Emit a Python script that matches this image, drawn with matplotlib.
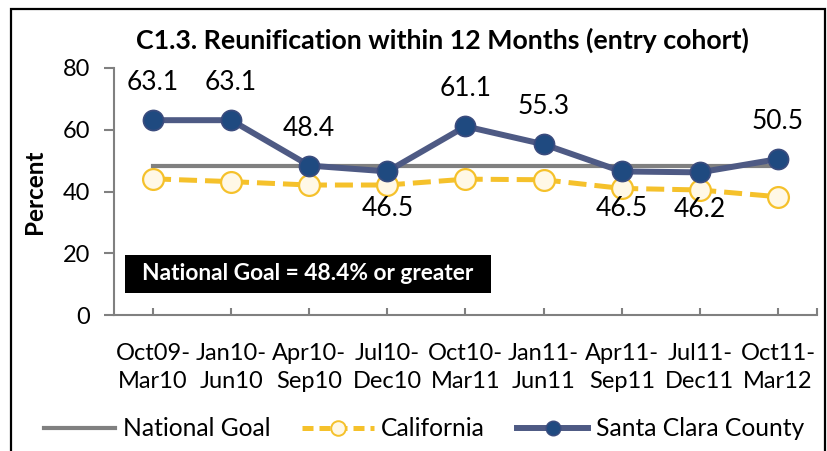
import matplotlib
matplotlib.use("Agg")
import matplotlib.pyplot as plt
from matplotlib.lines import Line2D
from matplotlib.patches import Rectangle

plt.rcParams['font.family'] = ['Lato', 'DejaVu Sans']

# data
periods = ['Oct09-\nMar10', 'Jan10-\nJun10', 'Apr10-\nSep10', 'Jul10-\nDec10',
           'Oct10-\nMar11', 'Jan11-\nJun11', 'Apr11-\nSep11', 'Jul11-\nDec11',
           'Oct11-\nMar12']
national_goal = [48.4] * 9
california = [44.1, 43.2, 42.1, 42.1, 44.0, 43.8, 41.0, 40.5, 38.3]
santa_clara = [63.1, 63.1, 48.4, 46.5, 61.1, 55.3, 46.5, 46.2, 50.5]
label_below = [False, False, False, True, False, False, True, True, False]

gray = '#808080'
gold = '#F5C12B'
slate = '#4E5A84'
navy = '#1F4A80'

fig = plt.figure(figsize=(8.28, 4.51), dpi=100)
ax = fig.add_axes([114/828, 1-315/451, 703/828, 247/451])

x = list(range(len(periods)))
ax.plot(x, national_goal, color=gray, lw=3, zorder=2)
ax.plot(x, california, color=gold, lw=3.6, dashes=(3.6, 1.6),
        marker='o', markersize=15, markerfacecolor='#FFF8E6',
        markeredgecolor=gold, markeredgewidth=1.6, zorder=3)
ax.plot(x, santa_clara, color=slate, lw=4.3, marker='o', markersize=14.5,
        markerfacecolor=navy, markeredgecolor='#3B4C7E', markeredgewidth=1.2,
        zorder=4)

for xi, v, below in zip(x, santa_clara, label_below):
    ax.annotate(f'{v:.1f}', (xi, v), xytext=(0, -27 if below else 27),
                textcoords='offset points', ha='center', va='center',
                fontsize=19)

ax.set_xlim(-0.5, len(periods) - 0.5)
ax.set_ylim(0, 80)
ax.set_yticks([0, 20, 40, 60, 80])
ax.set_xticks(x)
ax.set_xticklabels(periods, fontsize=17, linespacing=1.45)
ax.set_xticks(x + [len(periods) - 0.5], minor=True)
ax.tick_params(axis='x', which='both', direction='in', length=5, width=1.5,
               color=gray, pad=20)
ax.tick_params(axis='y', direction='out', length=7, width=1.5, color=gray,
               labelsize=17, pad=10)
for s in ['top', 'right']:
    ax.spines[s].set_visible(False)
for s in ['left', 'bottom']:
    ax.spines[s].set_color(gray)
    ax.spines[s].set_linewidth(1.5)

ax.set_ylabel('Percent', fontsize=17.5, fontweight='bold', labelpad=12)

# goal note: black box with white text
ax.add_patch(Rectangle((0.0156, 0.089), 0.52, 0.154, transform=ax.transAxes,
                       facecolor='black', edgecolor='none', zorder=5))
ax.text(0.0156 + 0.26, 0.166, 'National Goal = 48.4% or greater',
        transform=ax.transAxes, color='white', fontsize=16.4,
        fontweight='bold', ha='center', va='center', zorder=6)

fig.text(442/828, 1-40/451, 'C1.3. Reunification within 12 Months (entry cohort)',
         ha='center', va='center', fontsize=19.3, fontweight='bold')

handles = [
    Line2D([], [], color=gray, lw=3),
    Line2D([], [], color=gold, lw=3.6, dashes=(2.2, 1.2), marker='o',
           markersize=10.5, markerfacecolor='#FFF8E6', markeredgecolor=gold,
           markeredgewidth=1.4),
    Line2D([], [], color=slate, lw=4.3, marker='o', markersize=10.5,
           markerfacecolor=navy, markeredgecolor='#3B4C7E'),
]
fig.legend(handles, ['National Goal', 'California', 'Santa Clara County'],
           loc='center', bbox_to_anchor=(424/828, 1-429/451), ncol=3,
           frameon=False, fontsize=17.7, handlelength=2.9, handletextpad=0.3,
           columnspacing=1.3)

fig.add_artist(Rectangle((11/828, -0.1), 814/828, 1.1 - 9/451,
                         transform=fig.transFigure, fill=False,
                         edgecolor='black', lw=1.6))

fig.savefig('out.png', dpi=100)
